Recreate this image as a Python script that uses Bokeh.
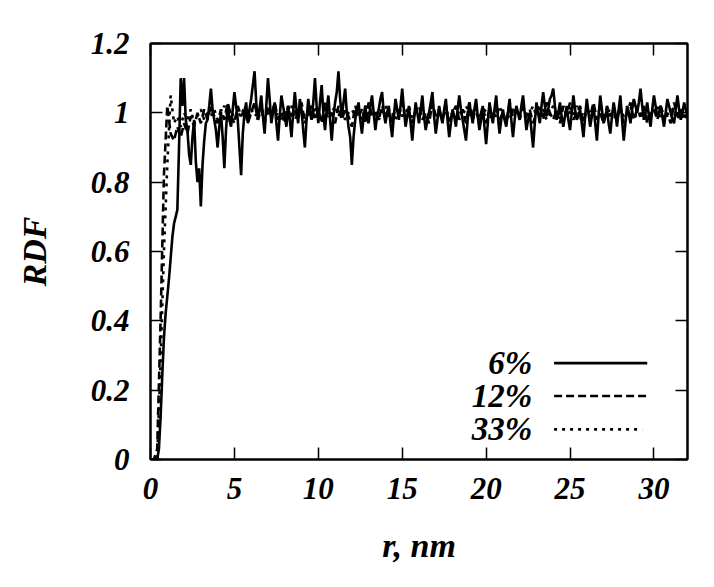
from bokeh.plotting import figure
from bokeh.models import (LinearAxis, FixedTicker, CustomJSTickFormatter, Range1d)
from bokeh.core.properties import value
from bokeh.embed import file_html
from bokeh.resources import INLINE

# r values (nm): 6% sampled every 0.1 nm, 12% and 33% every 0.2 nm
r_6 = [round(i * 0.1, 1) for i in range(321)]
r_other = [round(i * 0.2, 1) for i in range(161)]

rdf_6 = [
    0, 0, 0, 0, 0, 0.03, 0.12, 0.24, 0.35, 0.42, 0.47, 0.52, 0.58, 0.64, 0.68, 0.70, 0.72, 0.90, 1.10, 1.02,
    1.10, 0.98, 0.95, 0.88, 0.85, 0.93, 0.98, 0.86, 0.80, 0.84, 0.73, 0.85, 0.92, 0.97, 0.98, 1.02, 1.07, 1.01, 0.98, 0.95,
    0.90, 0.96, 1.00, 0.93, 0.84, 0.95, 1.02, 0.98, 0.96, 1.01, 1.06, 1.02, 0.98, 0.90, 0.82, 0.94, 1.00, 1.03, 0.97, 1.01,
    1.04, 1.08, 1.12, 1.03, 0.98, 1.01, 1.05, 0.99, 0.94, 1.02, 1.10, 1.04, 0.97, 1.00, 1.03, 0.97, 0.92, 0.99, 1.05, 1.02,
    0.99, 0.96, 1.02, 0.98, 0.93, 1.00, 1.06, 1.01, 0.97, 1.04, 1.01, 0.95, 0.90, 0.98, 1.04, 1.00, 0.98, 1.03, 1.10, 1.02,
    0.97, 1.03, 1.08, 1.00, 0.95, 1.01, 1.05, 0.98, 0.92, 0.99, 1.03, 1.06, 1.12, 1.04, 0.99, 1.03, 1.07, 1.00, 0.96, 0.93,
    0.85, 0.93, 0.98, 1.01, 1.03, 0.98, 0.94, 0.99, 1.02, 0.98, 0.97, 1.02, 1.05, 1.00, 0.95, 0.99, 1.01, 1.04, 1.06, 1.00,
    0.97, 1.00, 1.02, 0.97, 0.93, 0.99, 1.04, 1.01, 0.98, 1.02, 1.07, 1.01, 0.96, 0.99, 1.02, 0.97, 0.92, 0.98, 1.03, 1.00,
    0.97, 1.01, 1.05, 0.99, 0.95, 0.98, 1.00, 1.03, 1.06, 0.99, 0.94, 0.98, 1.02, 0.99, 0.97, 1.01, 1.04, 0.98, 0.93, 0.97,
    1.01, 0.99, 0.96, 1.01, 1.05, 1.01, 0.98, 0.95, 0.92, 0.98, 1.03, 1.00, 0.97, 1.01, 1.04, 0.99, 0.95, 0.98, 1.02, 0.96,
    0.91, 0.97, 1.03, 1.00, 0.97, 1.01, 1.05, 0.99, 0.94, 0.98, 1.01, 0.98, 0.96, 1.00, 1.04, 0.98, 0.93, 0.98, 1.02, 1.00,
    0.98, 1.02, 1.05, 1.00, 0.95, 0.98, 1.00, 0.95, 0.90, 0.97, 1.03, 1.00, 0.97, 1.02, 1.06, 1.02, 0.99, 1.01, 1.04, 1.05,
    1.07, 1.02, 0.98, 1.00, 1.03, 0.99, 0.96, 0.99, 1.02, 0.98, 0.95, 1.00, 1.05, 1.01, 0.98, 0.99, 1.01, 0.97, 0.93, 0.99,
    1.04, 1.00, 0.96, 0.99, 1.02, 0.97, 0.92, 0.99, 1.05, 1.01, 0.97, 0.99, 1.01, 0.97, 0.94, 0.99, 1.03, 1.00, 0.96, 1.01,
    1.05, 0.98, 0.92, 0.97, 1.02, 1.00, 0.97, 1.01, 1.04, 1.02, 1.00, 1.03, 1.07, 1.02, 0.98, 1.00, 1.03, 0.99, 0.96, 1.01,
    1.05, 1.02, 0.99, 1.00, 1.02, 0.99, 0.96, 1.00, 1.04, 1.02, 1.00, 0.98, 0.97, 1.01, 1.05, 1.01, 0.98, 1.00, 1.03, 1.01,
    0.99,
]

rdf_12 = [
    0, 0, 0.03, 0.40, 0.82, 1.02, 0.94, 0.92, 0.96, 0.93,
    0.97, 0.94, 0.99, 0.96, 1.00, 0.97, 1.01, 0.98, 1.02, 0.99,
    0.97, 1.01, 0.98, 1.03, 0.99, 0.97, 1.02, 0.99, 1.01, 0.97,
    1.00, 1.03, 0.98, 1.01, 0.97, 1.02, 0.99, 1.03, 0.98, 1.00,
    0.97, 1.02, 0.99, 1.01, 0.98, 1.03, 0.97, 1.00, 1.02, 0.98,
    1.01, 0.97, 1.03, 0.99, 1.00, 0.97, 1.02, 0.98, 1.01, 0.99,
    0.96, 1.02, 0.99, 1.01, 0.97, 1.03, 0.99, 1.00, 0.98, 1.02,
    0.99, 1.01, 0.97, 1.02, 0.99, 1.03, 0.98, 1.00, 0.97, 1.01,
    1.02, 0.98, 1.00, 0.97, 1.03, 0.99, 1.01, 0.98, 1.02, 0.97,
    1.00, 1.02, 0.98, 1.01, 0.97, 1.03, 0.99, 1.00, 0.98, 1.02,
    0.97, 1.01, 0.99, 1.02, 0.98, 1.00, 0.97, 1.03, 0.99, 1.01,
    0.98, 1.02, 0.99, 1.01, 0.97, 1.00, 1.02, 0.98, 1.03, 1.00,
    0.98, 1.01, 0.97, 1.02, 0.99, 1.03, 0.98, 1.00, 1.02, 0.97,
    1.01, 0.99, 1.03, 0.98, 1.00, 0.97, 1.02, 0.99, 1.01, 0.98,
    1.02, 0.97, 1.00, 1.03, 0.98, 1.01, 0.99, 1.02, 0.97, 1.00,
    1.01, 0.98, 1.02, 0.99, 1.00, 0.97, 1.03, 0.99, 1.01, 0.98,
    1.00,
]

rdf_33 = [
    0, 0, 0, 0.28, 0.60, 0.85, 1.05, 0.97, 0.99, 0.96,
    1.00, 0.98, 1.01, 0.97, 0.99, 1.01, 0.98, 1.00, 0.99, 1.01,
    0.98, 1.00, 1.02, 0.99, 1.01, 0.98, 1.00, 0.99, 1.02, 0.98,
    1.01, 0.99, 1.00, 1.02, 0.98, 1.00, 1.01, 0.99, 1.00, 0.98,
    1.01, 0.99, 1.02, 0.98, 1.00, 1.01, 0.99, 1.00, 0.98, 1.02,
    0.99, 1.00, 1.01, 0.98, 1.00, 1.02, 0.99, 1.01, 0.98, 1.00,
    1.01, 0.99, 1.00, 0.98, 1.02, 1.00, 0.99, 1.01, 0.98, 1.00,
    1.02, 0.99, 1.00, 0.98, 1.01, 0.99, 1.00, 1.02, 0.98, 1.00,
    0.99, 1.01, 0.98, 1.00, 1.02, 0.99, 1.00, 0.98, 1.01, 0.99,
    1.00, 0.98, 1.01, 0.99, 1.02, 1.00, 0.98, 1.01, 0.99, 1.00,
    1.01, 0.98, 1.00, 0.99, 1.02, 0.99, 1.00, 0.98, 1.01, 1.00,
    0.99, 1.01, 0.98, 1.00, 1.02, 0.99, 1.00, 1.01, 0.98, 1.00,
    1.02, 0.99, 1.00, 0.98, 1.01, 1.00, 0.99, 1.02, 0.98, 1.00,
    0.99, 1.01, 1.00, 0.98, 1.02, 0.99, 1.00, 1.01, 0.98, 1.00,
    1.01, 0.99, 1.00, 1.02, 0.98, 1.00, 0.99, 1.01, 0.98, 1.00,
    1.00, 1.02, 0.98, 1.00, 0.99, 1.01, 1.00, 0.98, 1.01, 0.99,
    1.00,
]

series_labels = ["6%", "12%", "33%"]
series_dash = ["solid", "8 4", "3 5"]
x_ticks = [0, 5, 10, 15, 20, 25, 30]
y_ticks = [0, 0.2, 0.4, 0.6, 0.8, 1.0, 1.2]

FONT = "Liberation Serif"

p = figure(width=698, height=571, output_backend="svg", toolbar_location=None,
           x_range=Range1d(0, 32), y_range=Range1d(0, 1.2),
           min_border_left=150, min_border_right=11,
           min_border_top=43, min_border_bottom=112)
p.grid.visible = False
p.outline_line_color = "black"
p.outline_line_width = 2
p.background_fill_color = "white"
p.border_fill_color = "white"

fmt = CustomJSTickFormatter(code="var s = tick.toFixed(1); return s.endsWith('.0') ? s.slice(0, -2) : s;")

for ax in p.xaxis:
    ax.ticker = FixedTicker(ticks=x_ticks)
    ax.axis_label = "r, nm"
for ax in p.yaxis:
    ax.ticker = FixedTicker(ticks=y_ticks)
    ax.formatter = fmt
    ax.axis_label = "RDF"

for ax in list(p.xaxis) + list(p.yaxis):
    ax.major_tick_in = 12
    ax.major_tick_out = 0
    ax.major_tick_line_width = 1.5
    ax.minor_tick_line_color = None
    ax.axis_line_width = 2
    ax.major_label_text_font = FONT
    ax.major_label_text_font_style = "bold italic"
    ax.major_label_text_font_size = "31px"
    ax.major_label_text_color = "black"
    ax.axis_label_text_font = FONT
    ax.axis_label_text_font_style = "bold italic"
    ax.axis_label_text_font_size = "34px"
    ax.axis_label_text_color = "black"

p.xaxis.major_label_standoff = 18
p.xaxis.axis_label_standoff = 25
p.yaxis.major_label_standoff = 21
p.yaxis.axis_label_standoff = 35

# mirrored ticks on top and right (no labels)
top = LinearAxis(ticker=FixedTicker(ticks=x_ticks), major_label_text_font_size="1px",
                 major_label_text_color=None,
                 major_tick_in=12, major_tick_out=0, major_tick_line_width=1.5,
                 minor_tick_line_color=None, axis_line_width=2)
right = LinearAxis(ticker=FixedTicker(ticks=y_ticks), major_label_text_font_size="1px",
                   major_label_text_color=None,
                   major_tick_in=12, major_tick_out=0, major_tick_line_width=1.5,
                   minor_tick_line_color=None, axis_line_width=2)
p.add_layout(top, "above")
p.add_layout(right, "right")

p.line(r_6, rdf_6, line_color="black", line_width=2.6, line_dash=series_dash[0])
p.line(r_other, rdf_12, line_color="black", line_width=2.6, line_dash=series_dash[1])
p.line(r_other, rdf_33, line_color="black", line_width=2.6, line_dash=series_dash[2])

# legend (gnuplot style: label left of sample)
leg_y = [0.278, 0.183, 0.087]
leg_text_x = [22.75] * 3
leg_x0 = [24.05] * 3
leg_x1 = [29.6, 29.6, 29.3]
p.text(x=leg_text_x, y=leg_y, text=series_labels, text_align="right", text_baseline="middle",
       text_font=value(FONT), text_font_style="bold italic", text_font_size="33px",
       text_color="black")
for i, dash in enumerate(series_dash):
    p.segment(x0=[leg_x0[i]], y0=[leg_y[i]], x1=[leg_x1[i]], y1=[leg_y[i]],
              line_color="black", line_width=2.6, line_dash=dash)

open("out.html", "w").write(file_html(p, INLINE))
